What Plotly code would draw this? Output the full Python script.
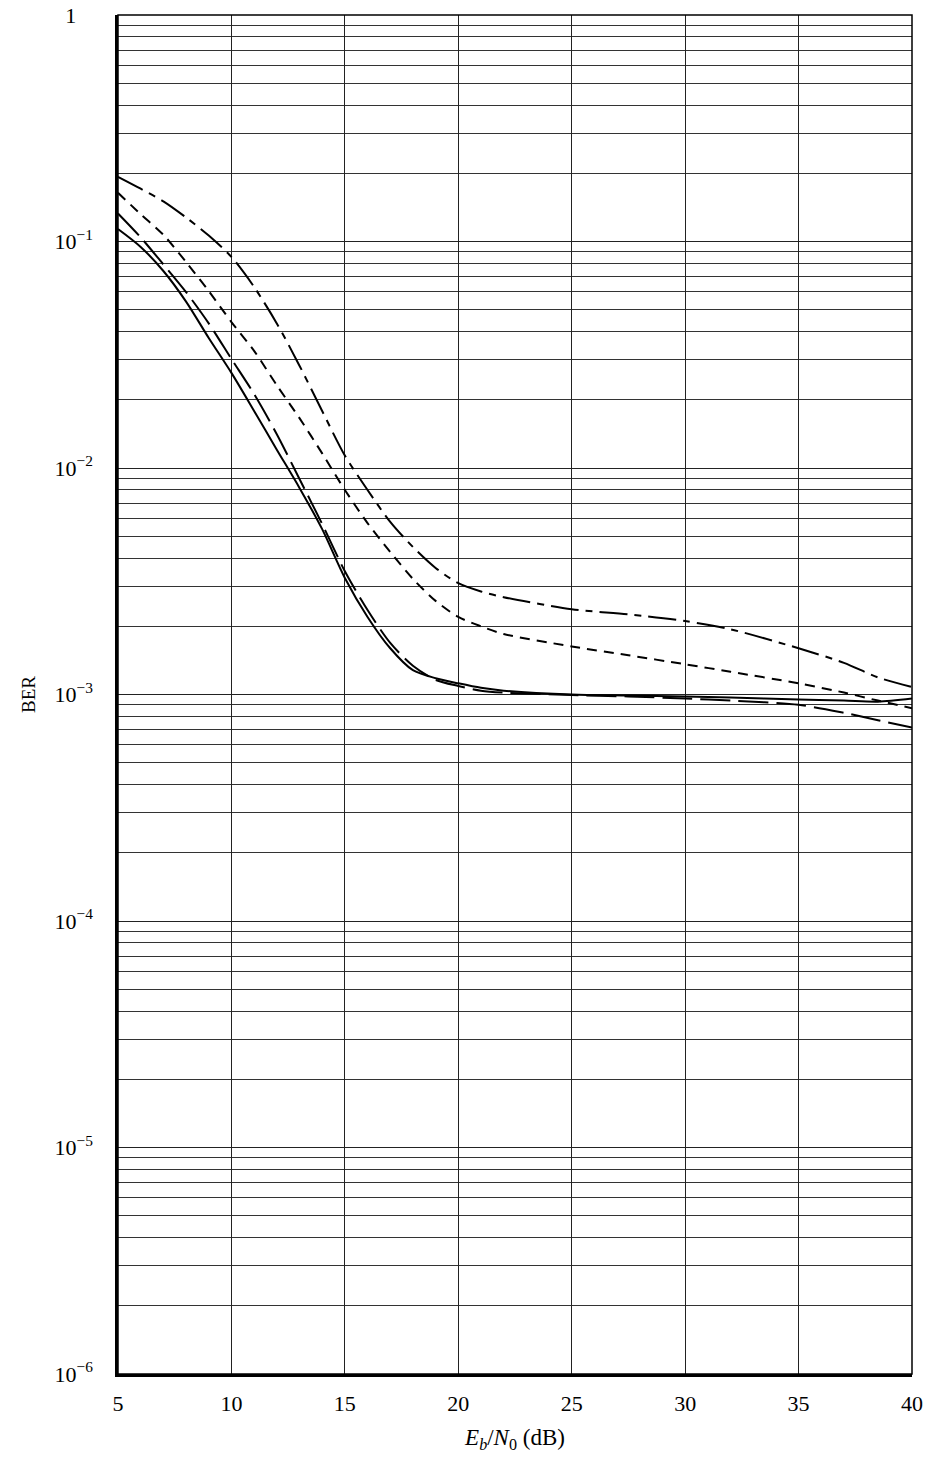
import plotly.graph_objects as go

# ---- data ----
ebn0_db = [5, 6, 7, 8, 9, 10, 11, 12, 13, 14, 15, 16, 17, 18, 19, 20, 21, 22, 25, 27.5, 30, 32, 35, 37, 38.5, 40]

ber_solid = [0.1135, 0.0946, 0.0741, 0.0543, 0.0375, 0.0263, 0.01786, 0.01205, 0.00817, 0.00537,
             0.00327, 0.0022, 0.0016, 0.00128, 0.00118, 0.00112, 0.00107, 0.00104, 0.00100, 0.00099,
             0.00098, 0.00097, 0.00095, 0.00094, 0.00093, 0.00096]

ber_longdash = [0.133, 0.1043, 0.0792, 0.0598, 0.0435, 0.0303, 0.0212, 0.0141, 0.00894, 0.00566,
                0.0035, 0.00236, 0.00169, 0.00134, 0.00116, 0.00109, 0.00104, 0.00102, 0.000995, 0.00098,
                0.00096, 0.00094, 0.0009, 0.00083, 0.00077, 0.000714]

ber_shortdash = [0.164, 0.132, 0.107, 0.0812, 0.0604, 0.0441, 0.0329, 0.0232, 0.0166, 0.0116,
                 0.008, 0.00571, 0.00426, 0.00324, 0.00259, 0.0022, 0.002, 0.00185, 0.00163, 0.00149,
                 0.00136, 0.00126, 0.00112, 0.00102, 0.00094, 0.00087]

ber_dashdot = [0.193, 0.171, 0.1505, 0.1277, 0.1062, 0.0855, 0.063, 0.0435, 0.0283, 0.01786,
               0.01135, 0.008, 0.00578, 0.00448, 0.00362, 0.0031, 0.00285, 0.00269, 0.00238, 0.00226,
               0.00211, 0.00194, 0.0016, 0.00138, 0.00119, 0.00108]

x_ticks = [5, 10, 15, 20, 25, 30, 35, 40]
y_ticks = [1e-6, 1e-5, 1e-4, 1e-3, 1e-2, 1e-1, 1]
y_ticktext = ["10<sup>\u22126</sup>", "10<sup>\u22125</sup>", "10<sup>\u22124</sup>",
              "10<sup>\u22123</sup>", "10<sup>\u22122</sup>", "10<sup>\u22121</sup>",
              "1" + "\u00a0" * 3]
y_minor = [m * 10.0 ** e for e in range(-6, 0) for m in range(2, 10)]

FONT = "Liberation Serif, Times New Roman, serif"

fig = go.Figure()
series = [
    (ber_solid, "solid"),
    (ber_longdash, "30px,8px"),
    (ber_shortdash, "10px,7px"),
    (ber_dashdot, "28px,7px,7px,7px"),
]
for ys, dash in series:
    fig.add_trace(go.Scatter(
        x=ebn0_db, y=ys, mode="lines",
        line=dict(color="black", width=2, dash=dash, shape="spline", smoothing=0.8),
        showlegend=False, hoverinfo="skip",
    ))

fig.update_layout(
    width=932, height=1459,
    margin=dict(l=118, r=20, t=15, b=85),
    paper_bgcolor="white", plot_bgcolor="white",
    font=dict(family=FONT, size=22, color="black"),
    xaxis=dict(
        range=[5, 40], tickvals=x_ticks, ticktext=[str(v) for v in x_ticks],
        showgrid=True, gridcolor="#222", gridwidth=1,
        showline=True, linecolor="black", linewidth=3,
        ticks="", ticklabelstandoff=8, zeroline=False, automargin=False,
        title=dict(text="<i>E</i><sub><i>b</i></sub>/<i>N</i><sub>0</sub> (dB)",
                   font=dict(family=FONT, size=23), standoff=14),
    ),
    yaxis=dict(
        type="log", range=[-6, 0], tickvals=y_ticks, ticktext=y_ticktext,
        showgrid=True, gridcolor="#222", gridwidth=1,
        minor=dict(tickvals=y_minor, showgrid=True, gridcolor="#333", gridwidth=1, ticks=""),
        showline=True, linecolor="black", linewidth=2.5,
        ticks="", ticklabelstandoff=18, zeroline=False, automargin=False,
        title=dict(text="BER", font=dict(family=FONT, size=19), standoff=14),
    ),
    shapes=[dict(type="rect", xref="paper", yref="paper", x0=0, x1=1, y0=0, y1=1,
                 line=dict(color="black", width=1.5), layer="above")],
)

fig.write_html("out.html")
